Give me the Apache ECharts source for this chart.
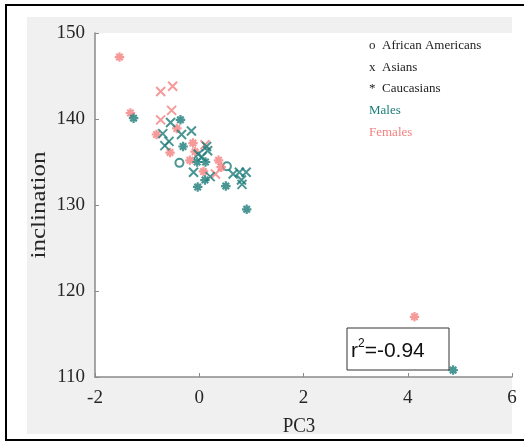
<!DOCTYPE html>
<html><head><meta charset="utf-8">
<script src="https://cdn.jsdelivr.net/npm/echarts@6/dist/echarts.min.js"></script>
<style>html,body{margin:0;padding:0;background:#fff}#c{width:524px;height:444px}</style>
</head><body><div id="c"></div>
<script>
// Data: [PC3, inclination]
const aaMales = [[-0.38,134.9],[0.53,134.5]];
const asianMales = [[-0.55,139.6],[-0.70,138.3],[-0.34,138.2],[-0.15,138.6],[-0.58,137.4],[-0.66,136.9],[0.14,136.8],[0.16,136.3],[-0.02,135.9],[0.05,135.6],[-0.11,133.8],[0.21,133.3],[0.65,133.6],[0.77,133.8],[0.90,133.8],[0.81,132.9],[0.82,132.4]];
const asianFemales = [[-0.74,143.2],[-0.51,143.8],[-0.53,141.0],[-0.74,139.9],[0.11,137.0],[0.31,133.6]];
const caucMales = [[-1.26,140.1],[-0.36,139.9],[-0.31,136.8],[-0.04,135.0],[0.12,135.0],[0.11,132.9],[-0.03,132.1],[0.51,132.2],[0.91,129.5],[4.87,110.8]];
const caucFemales = [[-1.53,147.2],[-1.32,140.7],[-0.43,138.9],[-0.82,138.2],[-0.56,136.1],[-0.12,137.2],[-0.08,136.2],[-0.18,135.2],[0.37,135.2],[0.42,134.4],[0.08,133.9],[4.13,117.0]];
const xTicks = [-2,0,2,4,6];
const yTicks = [110,120,130,140,150];
const legendLines = ['o  African Americans','x  Asians','*  Caucasians'];
const rText = '-0.94';

const TEAL = '#1c7c79', PINK = '#f2817f';
const xPath = 'path://M0,0 L10,10 M10,0 L0,10';
const starPath = 'path://M5,0 L5,10 M0,5 L10,5 M1.6,1.6 L8.4,8.4 M8.4,1.6 L1.6,8.4';
function ser(name, data, color, kind){
  const base = {name, type:'scatter', data, z:3};
  if(kind==='o'){ base.symbol='circle'; base.symbolSize=8; base.itemStyle={color:'rgba(0,0,0,0)', borderColor:color, borderWidth:2}; }
  if(kind==='x'){ base.symbol=xPath; base.symbolSize=9; base.itemStyle={color:'rgba(0,0,0,0)', borderColor:color, borderWidth:2}; }
  if(kind==='*'){ base.symbol=starPath; base.symbolSize=9.5; base.itemStyle={color:color, borderColor:color, borderWidth:2.2}; }
  return base;
}
const serif = 'Liberation Serif';
const chart = echarts.init(document.getElementById('c'), null, {renderer:'canvas'});
const graphics = [
  {type:'rect', z:-100, shape:{x:27,y:17,width:485,height:417}, style:{fill:'#f0f0f0'}, silent:true},
  {type:'line', z:10, shape:{x1:5,y1:5,x2:524,y2:5}, style:{stroke:'#000',lineWidth:2}},
  {type:'line', z:10, shape:{x1:6,y1:5,x2:6,y2:440}, style:{stroke:'#000',lineWidth:2}},
  {type:'line', z:10, shape:{x1:5,y1:440,x2:524,y2:440}, style:{stroke:'#000',lineWidth:2}},
  {type:'text', z:10, x:40, y:205, rotation:Math.PI/2, scaleX:1.25,
    style:{text:'inclination', x:0, y:0, font:'20px "'+serif+'"', fill:'#262626', textAlign:'center', textVerticalAlign:'middle'}},
  {type:'text', z:10, x:299, y:426, scaleY:1.15,
    style:{text:'PC3', x:0, y:0, font:'19px "'+serif+'"', fill:'#262626', textAlign:'center', textVerticalAlign:'middle'}},
  {type:'rect', z:10, shape:{x:347,y:328,width:102,height:42}, style:{fill:'#fff', stroke:'#333', lineWidth:1}},
  {type:'text', z:11, style:{x:351, y:351, rich:{a:{font:'21px "Liberation Sans"', fill:'#111'}, s:{font:'12px "Liberation Sans"', fill:'#111', verticalAlign:'top', padding:[0,0,15,0]}}, text:'{a|r}{s|2}{a|='+rText+'}', textVerticalAlign:'middle'}}
];
legendLines.forEach((t,i)=>graphics.push({type:'text', z:10, style:{text:t, x:369, y:45.5+i*21.7, font:'13px "'+serif+'"', fill:'#222', textVerticalAlign:'middle'}}));
graphics.push({type:'text', z:10, style:{text:'Males', x:369, y:110.5, font:'13px "'+serif+'"', fill:TEAL, textVerticalAlign:'middle'}});
graphics.push({type:'text', z:10, style:{text:'Females', x:369, y:132.5, font:'13px "'+serif+'"', fill:PINK, textVerticalAlign:'middle'}});

chart.setOption({
  animation:false,
  backgroundColor:'#fff',
  grid:{left:95, right:12, top:33, bottom:67, show:true, backgroundColor:'#fff', borderWidth:0},
  xAxis:{type:'value', min:xTicks[0], max:xTicks[xTicks.length-1], interval:2,
    axisLine:{show:true, onZero:false, lineStyle:{color:'#8a8a8a', width:1.5}},
    axisTick:{show:true, inside:true, length:4, lineStyle:{color:'#8a8a8a'}},
    splitLine:{show:false},
    axisLabel:{color:'#262626', fontFamily:serif, fontSize:19, margin:12, showMaxLabel:true}},
  yAxis:{type:'value', min:yTicks[0], max:yTicks[yTicks.length-1], interval:10,
    axisLine:{show:true, onZero:false, lineStyle:{color:'#8a8a8a', width:1.5}},
    axisTick:{show:true, inside:true, length:4, lineStyle:{color:'#8a8a8a'}},
    splitLine:{show:false},
    axisLabel:{color:'#262626', fontFamily:serif, fontSize:19, margin:10}},
  series:[
    ser('AA males', aaMales, TEAL, 'o'),
    ser('Asian females', asianFemales, PINK, 'x'),
    ser('Caucasian females', caucFemales, PINK, '*'),
    ser('Asian males', asianMales, TEAL, 'x'),
    ser('Caucasian males', caucMales, TEAL, '*')
  ],
  graphic:graphics
});
</script></body></html>
